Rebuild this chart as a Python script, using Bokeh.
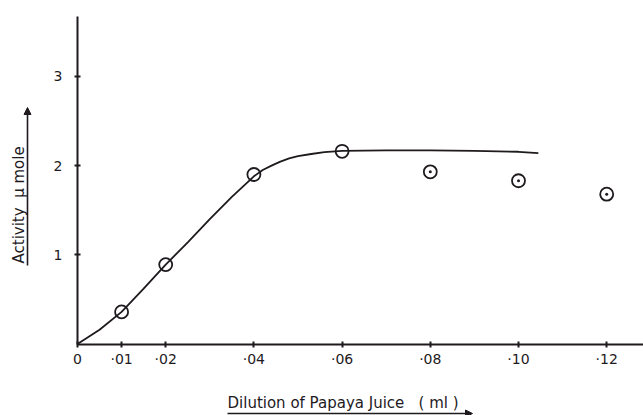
from bokeh.plotting import figure
from bokeh.models import Range1d, LinearAxis, FixedTicker, Arrow, NormalHead
from bokeh.core.properties import value
from bokeh.embed import file_html
from bokeh.resources import INLINE
import math

# Measured activity (µ mole) against volume of papaya juice (ml)
dilution = [0.01, 0.02, 0.04, 0.06, 0.08, 0.10, 0.12]
activity = [0.36, 0.89, 1.90, 2.16, 1.93, 1.83, 1.68]

# Points past the plateau are marked with a centre dot
dotted_dilution = [0.08, 0.10, 0.12]
dotted_activity = [1.93, 1.83, 1.68]

# Hand-fitted curve through the rising part and the plateau
curve_dilution = [0.0, 0.005, 0.01, 0.015, 0.02, 0.025, 0.03, 0.035, 0.04,
                  0.042, 0.044, 0.046, 0.048, 0.05, 0.053, 0.056, 0.06,
                  0.07, 0.08, 0.09, 0.10, 0.1045]
curve_activity = [0.0, 0.16, 0.36, 0.62, 0.89, 1.14, 1.40, 1.65, 1.88,
                  1.95, 2.00, 2.045, 2.08, 2.105, 2.13, 2.15, 2.165,
                  2.17, 2.17, 2.165, 2.155, 2.14]

x_ticks = [0, 0.01, 0.02, 0.04, 0.06, 0.08, 0.10, 0.12]
x_tick_labels = ["0", "\u00b701", "\u00b702", "\u00b704", "\u00b706", "\u00b708", "\u00b710", "\u00b712"]
y_ticks = [1, 2, 3]
y_tick_labels = ["1", "2", "3"]

NB = "\u00a0"
x_title = "Dilution of Papaya Juice" + NB * 3 + "(" + NB + "ml" + NB + ")"
y_title = "Activity" + NB * 2 + "\u00b5" + NB + "mole"

INK = "#1e1a1e"
FONT = "DejaVu Sans"

W, H = 643, 415
# pixel position of the origin and pixels per data unit
ox, sx = 77.0, 4410.0
oy, sy = 343.5, 89.2

p = figure(width=W, height=H, output_backend="svg", toolbar_location=None,
           x_range=Range1d(-ox / sx, (W - ox) / sx),
           y_range=Range1d(-(H - oy) / sy, oy / sy),
           x_axis_type=None, y_axis_type=None, min_border=0)
p.grid.visible = False
p.outline_line_color = None
p.background_fill_color = "white"
p.border_fill_color = "white"

xaxis = LinearAxis(fixed_location=0, bounds=(0, (W - ox) / sx),
                   ticker=FixedTicker(ticks=x_ticks),
                   major_label_overrides={t: l for t, l in zip(x_ticks, x_tick_labels)})
yaxis = LinearAxis(fixed_location=0, bounds=(0, 3.67),
                   ticker=FixedTicker(ticks=y_ticks),
                   major_label_overrides={t: l for t, l in zip(y_ticks, y_tick_labels)})
for ax in (xaxis, yaxis):
    ax.axis_line_color = INK
    ax.axis_line_width = 2
    ax.major_tick_line_color = INK
    ax.major_tick_line_width = 2
    ax.major_tick_in = 3
    ax.major_tick_out = 3
    ax.minor_tick_line_color = None
    ax.major_label_text_font = FONT
    ax.major_label_text_font_size = "14px"
    ax.major_label_text_color = INK
xaxis.major_label_standoff = 4
yaxis.major_label_standoff = 12
p.add_layout(xaxis, "below")
p.add_layout(yaxis, "left")

p.line(curve_dilution, curve_activity, line_color=INK, line_width=1.8)
p.scatter(dilution, activity, marker="circle", size=13, fill_color=None,
          line_color=INK, line_width=1.8)
p.scatter(dotted_dilution, dotted_activity, marker="circle", size=3,
          fill_color=INK, line_color=None)

# axis titles with their direction arrows
p.text(x=[(227 - ox) / sx], y=[(oy - 402) / sy], text=[x_title],
       text_font=value(FONT), text_font_size="15px", text_color=INK,
       text_align="left", text_baseline="middle")
p.add_layout(Arrow(end=NormalHead(size=7, fill_color=INK, line_color=INK),
                   x_start=(227 - ox) / sx, y_start=(oy - 413) / sy,
                   x_end=(472 - ox) / sx, y_end=(oy - 413) / sy,
                   line_color=INK, line_width=1.6))

p.text(x=[(18 - ox) / sx], y=[(oy - 263) / sy], text=[y_title], angle=math.pi / 2,
       text_font=value(FONT), text_font_size="15px", text_color=INK,
       text_align="left", text_baseline="middle")
p.add_layout(Arrow(end=NormalHead(size=7, fill_color=INK, line_color=INK),
                   x_start=(27 - ox) / sx, y_start=(oy - 265) / sy,
                   x_end=(27 - ox) / sx, y_end=(oy - 107) / sy,
                   line_color=INK, line_width=1.6))

open("out.html", "w").write(file_html(p, INLINE))
